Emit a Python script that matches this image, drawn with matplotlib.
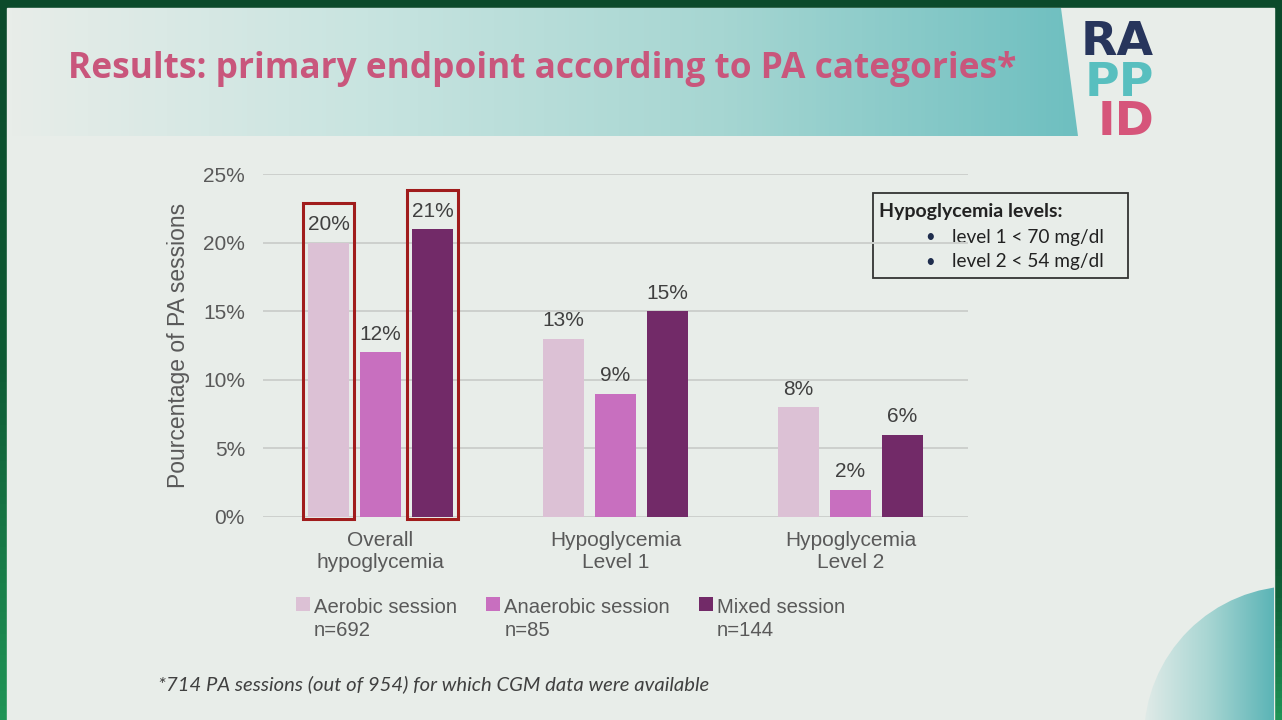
import matplotlib.pyplot as plt
import numpy as np
from matplotlib.patches import Rectangle, Polygon, Circle
from matplotlib.legend_handler import HandlerPatch
from matplotlib.colors import LinearSegmentedColormap

# --- data ---
categories = ['Overall\nhypoglycemia', 'Hypoglycemia\nLevel 1', 'Hypoglycemia\nLevel 2']
aerobic = [20, 13, 8]
anaerobic = [12, 9, 2]
mixed = [21, 15, 6]
series_names = ['Aerobic session', 'Anaerobic session', 'Mixed session']
series_n = ['n=692', 'n=85', 'n=144']
y_ticks = [0, 5, 10, 15, 20, 25]
# bars outlined in red in the first group: (series index, top of box in %)
highlight = [(0, 22.9), (2, 23.8)]

colors = ['#dcc1d5', '#c86fbf', '#722a68']
TXT = '#595959'
FS = 15
W, H = 1282, 720


class UpperSquare(HandlerPatch):
    # square legend key aligned with the first line of a two-line label
    def create_artists(self, legend, orig_handle, xdescent, ydescent,
                       width, height, fontsize, trans):
        p = Rectangle((-xdescent, -ydescent + fontsize * 0.75), width, height)
        self.update_prop(p, orig_handle, legend)
        p.set_transform(trans)
        return [p]


fig = plt.figure(figsize=(W / 100, H / 100), dpi=100, facecolor='#0b4a2b')

# --- slide background (pixel coords) ---
bg = fig.add_axes([0, 0, 1, 1], zorder=-10)
bg.set_xlim(0, W)
bg.set_ylim(H, 0)
bg.axis('off')

side = LinearSegmentedColormap.from_list('side', ['#0b4a2b', '#0e5a34', '#1f9456'])
bg.imshow(np.linspace(0, 1, 100).reshape(-1, 1), cmap=side, extent=(0, 7, H, 0), aspect='auto')
bg.imshow(np.linspace(0, 1, 100).reshape(-1, 1) ** 3, cmap=side, extent=(1274, W, H, 0), aspect='auto')
bg.add_patch(Rectangle((7, 8), 1267, H - 8, color='#e8ede9', zorder=1))

# header band with teal gradient and slanted right edge
head = LinearSegmentedColormap.from_list('head', ['#e8ede9', '#c8e4e0', '#a6d6d2', '#6ebfc0'])
band = bg.imshow(np.linspace(0, 1, 256).reshape(1, -1), cmap=head,
                 extent=(8, 1080, 136, 8), aspect='auto', zorder=2)
clip = Polygon([(8, 8), (1061, 8), (1078, 136), (8, 136)], transform=bg.transData, closed=True)
band.set_clip_path(clip)

title = bg.text(68, 69, 'Results: primary endpoint according to PA categories*',
                fontsize=28, fontweight='bold', color='#c9567c', va='center', ha='left',
                family='Open Sans', zorder=5)

# logo
for word, col, yb in [('RA', '#27355c', 55), ('PP', '#58bfbf', 96), ('ID', '#d6557a', 135)]:
    bg.text(1154, yb, word, fontsize=34, fontweight='heavy', color=col,
            ha='right', va='baseline', family='DejaVu Sans', zorder=5)

# bottom-right teal disc
corner = LinearSegmentedColormap.from_list('corner', ['#e4ece9', '#a9d6d3', '#5bb4b6'])
disc = bg.imshow(np.linspace(0, 1, 256).reshape(1, -1), cmap=corner,
                 extent=(1140, 1274, H, 580), aspect='auto', zorder=2)
disc.set_clip_path(Circle((1296, 738), 152, transform=bg.transData))

# info box
bg.add_patch(Rectangle((873, 193), 255, 85, fill=False, edgecolor='#333333', lw=1.3, zorder=5))
bg.text(879, 211, 'Hypoglycemia levels:', fontsize=14, fontweight='bold', color='#222222',
        va='center', ha='left', family='Lato', zorder=6)
for yy, s in [(237, 'level 1 < 70 mg/dl'), (262, 'level 2 < 54 mg/dl')]:
    bg.text(930, yy, '\u2022', fontsize=12, color='#1f2d4d', va='center', ha='center',
            family='Lato', zorder=6)
    bg.text(952, yy, s, fontsize=13.7, color='#222222', va='center', ha='left',
            family='Lato', zorder=6)

# footnote
bg.text(158, 684, '*714 PA sessions (out of 954) for which CGM data were available',
        fontsize=14.6, style='italic', color='#404040', va='center', ha='left',
        family='Lato', zorder=6)

# --- chart ---
ax = fig.add_axes([263 / W, 1 - 517 / H, 705 / W, 343 / H])
ax.set_facecolor('none')
x = np.arange(len(categories))
width = 0.175
offsets = [-0.221, 0, 0.221]
all_series = [aerobic, anaerobic, mixed]
containers = []
for vals, off, col in zip(all_series, offsets, colors):
    bars = ax.bar(x + off, vals, width, color=col, zorder=3)
    containers.append(bars)
    ax.bar_label(bars, labels=[f'{v}%' for v in vals], padding=6,
                 fontsize=FS, color='#404040', family='Liberation Sans')

pad = 0.022
for si, top in highlight:
    b = containers[si][0]
    ax.add_patch(Rectangle((b.get_x() - pad, -0.12), b.get_width() + 2 * pad, top + 0.12,
                           fill=False, edgecolor='#a01c1c', lw=2.2, zorder=4, clip_on=False))

ax.set_xlim(-0.5, 2.5)
ax.set_ylim(0, 25)
ax.set_yticks(y_ticks)
ax.set_yticklabels([f'{t}%' for t in y_ticks])
ax.set_xticks(x)
ax.set_xticklabels(categories)
ax.tick_params(length=0, labelsize=FS, labelcolor=TXT)
ax.tick_params(axis='y', pad=13)
ax.tick_params(axis='x', pad=10)
for lbl in ax.get_xticklabels() + ax.get_yticklabels():
    lbl.set_family('Liberation Sans')
for s in ax.spines.values():
    s.set_visible(False)
ax.grid(axis='y', color='#cdd0cd', lw=1.4, zorder=0)
ax.set_axisbelow(True)
ax.set_ylabel('Pourcentage of PA sessions', fontsize=16.5, color=TXT, family='Liberation Sans')
ax.yaxis.set_label_coords(-(263 - 190) / 705, 0.5)

leg = fig.legend(handles=[c.patches[0] for c in containers],
                 labels=[f'{a}\n{b}' for a, b in zip(series_names, series_n)],
                 loc='upper left', bbox_to_anchor=(296 / W, 1 - 598 / H), ncol=3,
                 frameon=False, labelcolor=TXT, borderpad=0, borderaxespad=0,
                 handlelength=0.69, handleheight=0.69, handletextpad=0.2,
                 columnspacing=1.43, prop={'family': 'Liberation Sans', 'size': 14.6},
                 handler_map={Rectangle: UpperSquare()})
for t in leg.get_texts():
    t.set_linespacing(1.3)

# fit title width to the reference
fig.canvas.draw()
tw = title.get_window_extent().width
title.set_fontsize(28 * 947 / tw)

fig.savefig('out.png', dpi=100, facecolor=fig.get_facecolor())
